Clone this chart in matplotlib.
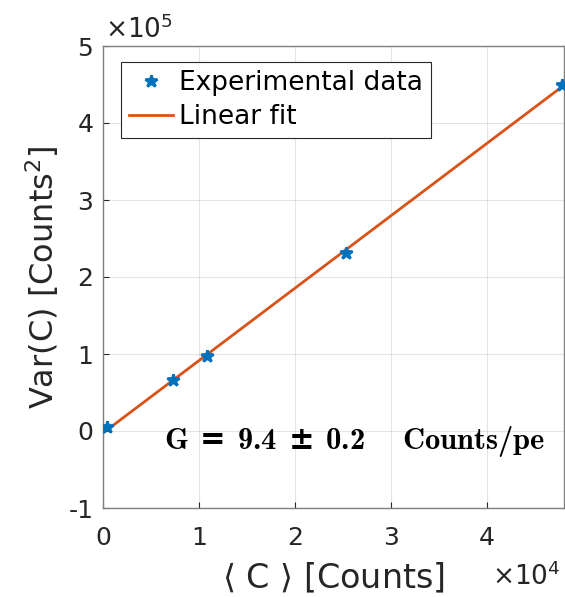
import numpy as np
import matplotlib
matplotlib.use("Agg")
import matplotlib.pyplot as plt
from matplotlib.ticker import FuncFormatter

# Data
mean_counts = [400, 7300, 10800, 25300, 47800]
var_counts = [5000, 66000, 97000, 231000, 450000]
x_ticks = [0, 1e4, 2e4, 3e4, 4e4]
y_ticks = [-1e5, 0, 1e5, 2e5, 3e5, 4e5, 5e5]

plt.rcParams['font.family'] = ['DejaVu Sans']
plt.rcParams['axes.unicode_minus'] = False
plt.rcParams['mathtext.fontset'] = 'dejavusans'
plt.rcParams['mathtext.bf'] = 'cmb10'
plt.rcParams['mathtext.rm'] = 'DejaVu Serif:bold'
plt.rcParams['mathtext.it'] = 'DejaVu Serif:italic:bold'
plt.rcParams['mathtext.fallback'] = 'cm'

fig = plt.figure(figsize=(5.65, 5.97), dpi=100)
ax = fig.add_axes([103/565, (597-508)/597, (564-103)/565, (508-46)/597])

slope, intercept = np.polyfit(mean_counts, var_counts, 1)
xl = np.array([0, 48000])

ax.plot(mean_counts, var_counts, linestyle='none', marker='*', markersize=9,
        markeredgewidth=2, color='#0072BD', label='Experimental data', zorder=3)
ax.plot(xl, slope*xl + intercept, color='#D95319', lw=2, label='Linear fit', zorder=2)

ax.set_xlim(0, 48000)
ax.set_ylim(-1e5, 5e5)
ax.set_xticks(x_ticks)
ax.set_yticks(y_ticks)
ax.xaxis.set_major_formatter(FuncFormatter(lambda v, p: f'{v/1e4:g}'))
ax.yaxis.set_major_formatter(FuncFormatter(lambda v, p: f'{v/1e5:g}'))
ax.tick_params(direction='in', length=4, labelsize=18, colors='#262626')
ax.tick_params(axis='x', pad=13)
ax.tick_params(axis='y', pad=7)
ax.grid(True, color='#262626', alpha=0.12, lw=0.8)
for s in ax.spines.values():
    s.set_color('#7f7f7f')
    s.set_linewidth(1.0)

ax.set_xlabel(r'$\langle$ C $\rangle$ [Counts]', fontsize=24, color='#262626', labelpad=8)
ax.set_ylabel(r'Var(C) [Counts$^2$]', fontsize=23, color='#262626', labelpad=5)

fig.text(105/565, 1-30/597, r'$\times10^5$', fontsize=19, color='#262626', ha='left', va='center')
fig.text(561/565, 1-577/597, r'$\times10^4$', fontsize=19, color='#262626', ha='right', va='center')

ax.text(6400, -13500,
        r'$\mathbf{G}\,=\,\mathbf{9.4}\,\pm\,\mathbf{0.2}\quad\,\mathbf{Counts/pe}$',
        fontsize=22, math_fontfamily='custom', ha='left', va='center', color='black')

leg = ax.legend(loc='upper left', bbox_to_anchor=(0.04, 0.965), fontsize=19,
                fancybox=False, framealpha=1, edgecolor='#262626',
                handlelength=1.67, handletextpad=0.23, borderpad=0.3, labelspacing=0.3,
                borderaxespad=0)
leg.get_frame().set_linewidth(0.8)

fig.savefig('out.png', dpi=100)
